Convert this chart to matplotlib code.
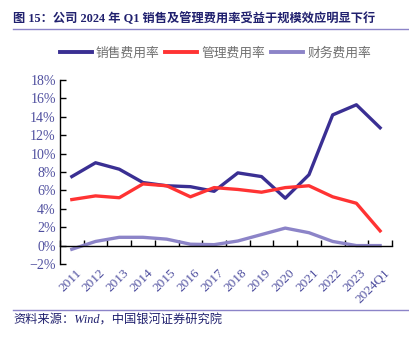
import numpy as np
import matplotlib
matplotlib.use("Agg")
import matplotlib.pyplot as plt
from matplotlib.lines import Line2D

plt.rcParams["font.family"] = ["Liberation Serif", "Noto Sans CJK SC", "DejaVu Sans"]
plt.rcParams["axes.unicode_minus"] = True

# ------------------------------------------------------------- data
years = ["2011", "2012", "2013", "2014", "2015", "2016", "2017",
         "2018", "2019", "2020", "2021", "2022", "2023", "2024Q1"]
sales = [7.5, 9.0, 8.3, 6.85, 6.5, 6.4, 5.9, 7.9, 7.5, 5.15, 7.7, 14.2, 15.3, 12.8]
admin = [5.0, 5.4, 5.2, 6.7, 6.5, 5.3, 6.3, 6.1, 5.8, 6.3, 6.5, 5.3, 4.6, 1.6]
finance = [-0.4, 0.45, 0.9, 0.9, 0.7, 0.15, 0.1, 0.5, 1.2, 1.9, 1.4, 0.45, 0.0, 0.0]
names = ["销售费用率", "管理费用率", "财务费用率"]

c_sales = "#3A2F93"
c_admin = "#FF3333"
c_fin = "#8C84C8"
c_tick = "#4F4F9F"
c_navy = "#20206E"

# ------------------------------------------------------------- figure
fig = plt.figure(figsize=(4.10, 3.46), dpi=100)
ax = fig.add_axes([0.1463, 0.237, 0.956 - 0.1463, 0.769 - 0.237])

x = np.arange(len(years))
ax.plot(x, sales, color=c_sales, lw=2.4, solid_joinstyle="round")
ax.plot(x, admin, color=c_admin, lw=2.4, solid_joinstyle="round")
ax.plot(x, finance, color=c_fin, lw=2.4, solid_joinstyle="round")

ax.set_xlim(-0.5, len(years) - 0.5)
ax.set_ylim(-2, 18)
ax.set_yticks(np.arange(-2, 19, 2))
ax.set_yticklabels([f"{v}%".replace("-", "\u2212") for v in range(-2, 19, 2)],
                   fontsize=10, color=c_tick)

for s in ["top", "right"]:
    ax.spines[s].set_visible(False)
ax.spines["bottom"].set_position(("data", 0))
ax.spines["left"].set_linewidth(1.0)
ax.spines["bottom"].set_linewidth(1.0)
ax.tick_params(axis="y", direction="in", length=4, width=1.0, pad=3)
ax.set_xticks(np.arange(-0.5, len(years), 1.0))
ax.set_xticklabels([])
ax.tick_params(axis="x", direction="in", length=4, width=1.0)

for i, lab in enumerate(years):
    ax.text(i + 0.15, -2.3, lab, rotation=45, ha="right", va="top",
            rotation_mode="anchor", fontsize=9.5, color=c_tick)

# legend
handles = [Line2D([], [], color=c, lw=2.8) for c in (c_sales, c_admin, c_fin)]
fig.legend(handles, names, loc="center", bbox_to_anchor=(0.525, 1 - 53 / 346),
           ncol=3, frameon=False, fontsize=9.2, handlelength=2.5,
           handletextpad=0.3, columnspacing=0.5, labelcolor="#707070")

# title + rules + source
fig.text(13 / 410, 1 - 19 / 346, "图 15：公司 2024 年 Q1 销售及管理费用率受益于规模效应明显下行",
         fontsize=8.8, fontweight="bold", color=c_navy, ha="left", va="center")
fig.add_artist(Line2D([13 / 410, 1.0], [1 - 29 / 346, 1 - 29 / 346],
                      color="#8C84C8", lw=1.0))
fig.add_artist(Line2D([13 / 410, 1.0], [1 - 310 / 346, 1 - 310 / 346],
                      color="#8C84C8", lw=1.0))
fig.text(13 / 410, 1 - 321 / 346, "资料来源：Wind，中国银河证券研究院",
         fontsize=8.8, style="italic", color=c_navy, ha="left", va="center")

fig.savefig("out.png", dpi=100)
